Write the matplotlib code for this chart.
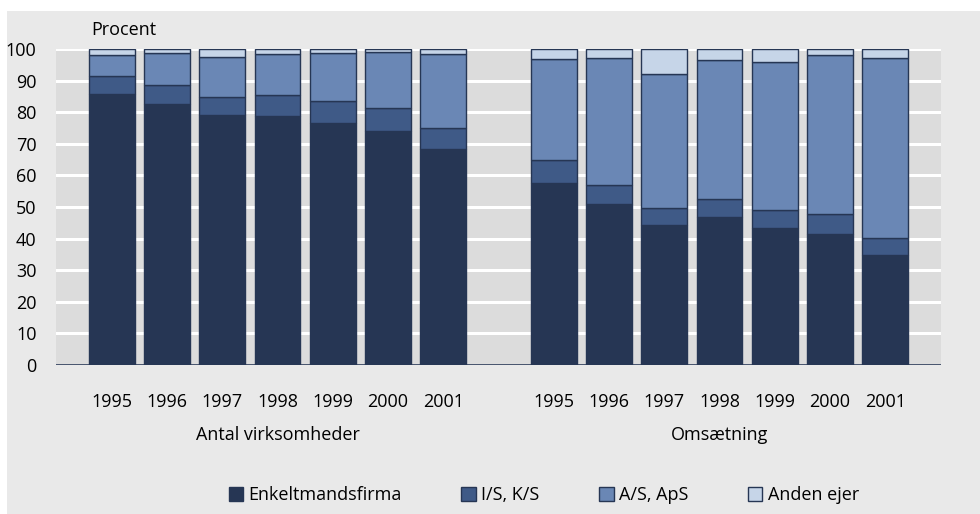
import numpy as np
import matplotlib.pyplot as plt
from matplotlib.patches import Rectangle

plt.rcParams['font.family'] = ['Open Sans', 'DejaVu Sans']

years = ['1995', '1996', '1997', '1998', '1999', '2000', '2001']
groups = ['Antal virksomheder', 'Omsætning']
series = ['Enkeltmandsfirma', 'I/S, K/S', 'A/S, ApS', 'Anden ejer']
colors = ['#263654', '#3f5a87', '#6a87b5', '#c6d5e8']

# andele i procent (aflæst), venstre gruppe = antal, højre = omsætning
enkelt = [85.8, 82.6, 79.0, 78.8, 76.7, 74.1, 68.5,
          57.7, 50.9, 44.4, 46.7, 43.2, 41.3, 34.9]
is_ks = [5.8, 6.0, 5.8, 6.6, 6.8, 7.3, 6.6,
         7.1, 6.0, 5.4, 5.9, 5.7, 6.5, 5.3]
as_aps = [6.5, 10.0, 12.7, 12.9, 15.1, 17.8, 23.3,
          31.9, 40.3, 42.4, 43.9, 46.9, 50.3, 57.0]
anden = [1.9, 1.4, 2.5, 1.7, 1.4, 0.8, 1.6,
         3.3, 2.8, 7.8, 3.5, 4.2, 1.9, 2.8]

pos = np.array(list(range(7)) + list(range(8, 15)))

fig = plt.figure(figsize=(9.8, 5.14), dpi=100)
fig.patch.set_facecolor('white')
fig.patches.append(Rectangle((7 / 980, 0), 1, 1 - 11 / 514, transform=fig.transFigure,
                             facecolor='#e9e9e9', edgecolor='none', zorder=-10))

ax = fig.add_axes([56 / 980, 1 - 365 / 514, (941 - 56) / 980, (365 - 49) / 514])
ax.set_facecolor('#dcdcdc')

bottom = np.zeros(len(pos))
for vals, c, name in zip([enkelt, is_ks, as_aps, anden], colors, series):
    ax.bar(pos, vals, bottom=bottom, width=0.83, color=c, edgecolor='#263654',
           linewidth=1.0, label=name, zorder=3)
    bottom += np.array(vals)

ax.set_xlim(-1.01, 15.01)
ax.set_ylim(0, 100)
ax.set_yticks(range(0, 101, 10))
ax.yaxis.grid(True, color='white', linewidth=2.2, zorder=1)
ax.set_axisbelow(True)
ax.axhline(0, color='#263654', linewidth=1.2, zorder=4)
for s in ax.spines.values():
    s.set_visible(False)

ax.set_xticks(pos)
ax.set_xticklabels(years * 2)
ax.tick_params(axis='both', length=0, labelsize=13, colors='black')
ax.tick_params(axis='x', pad=20)
ax.tick_params(axis='y', pad=14)

ax.text(3, -22, groups[0], ha='center', va='center', fontsize=13)
ax.text(11, -22, groups[1], ha='center', va='center', fontsize=13)
fig.text(91 / 980, 1 - 30 / 514, 'Procent', ha='left', va='center', fontsize=13)

fig.legend(loc='center', bbox_to_anchor=(0.555, 1 - 495 / 514), ncol=4, frameon=False,
           fontsize=13, handlelength=0.8, handleheight=0.8, handletextpad=0.3,
           columnspacing=3.3)

fig.savefig('out.png', dpi=100, facecolor=fig.get_facecolor())
